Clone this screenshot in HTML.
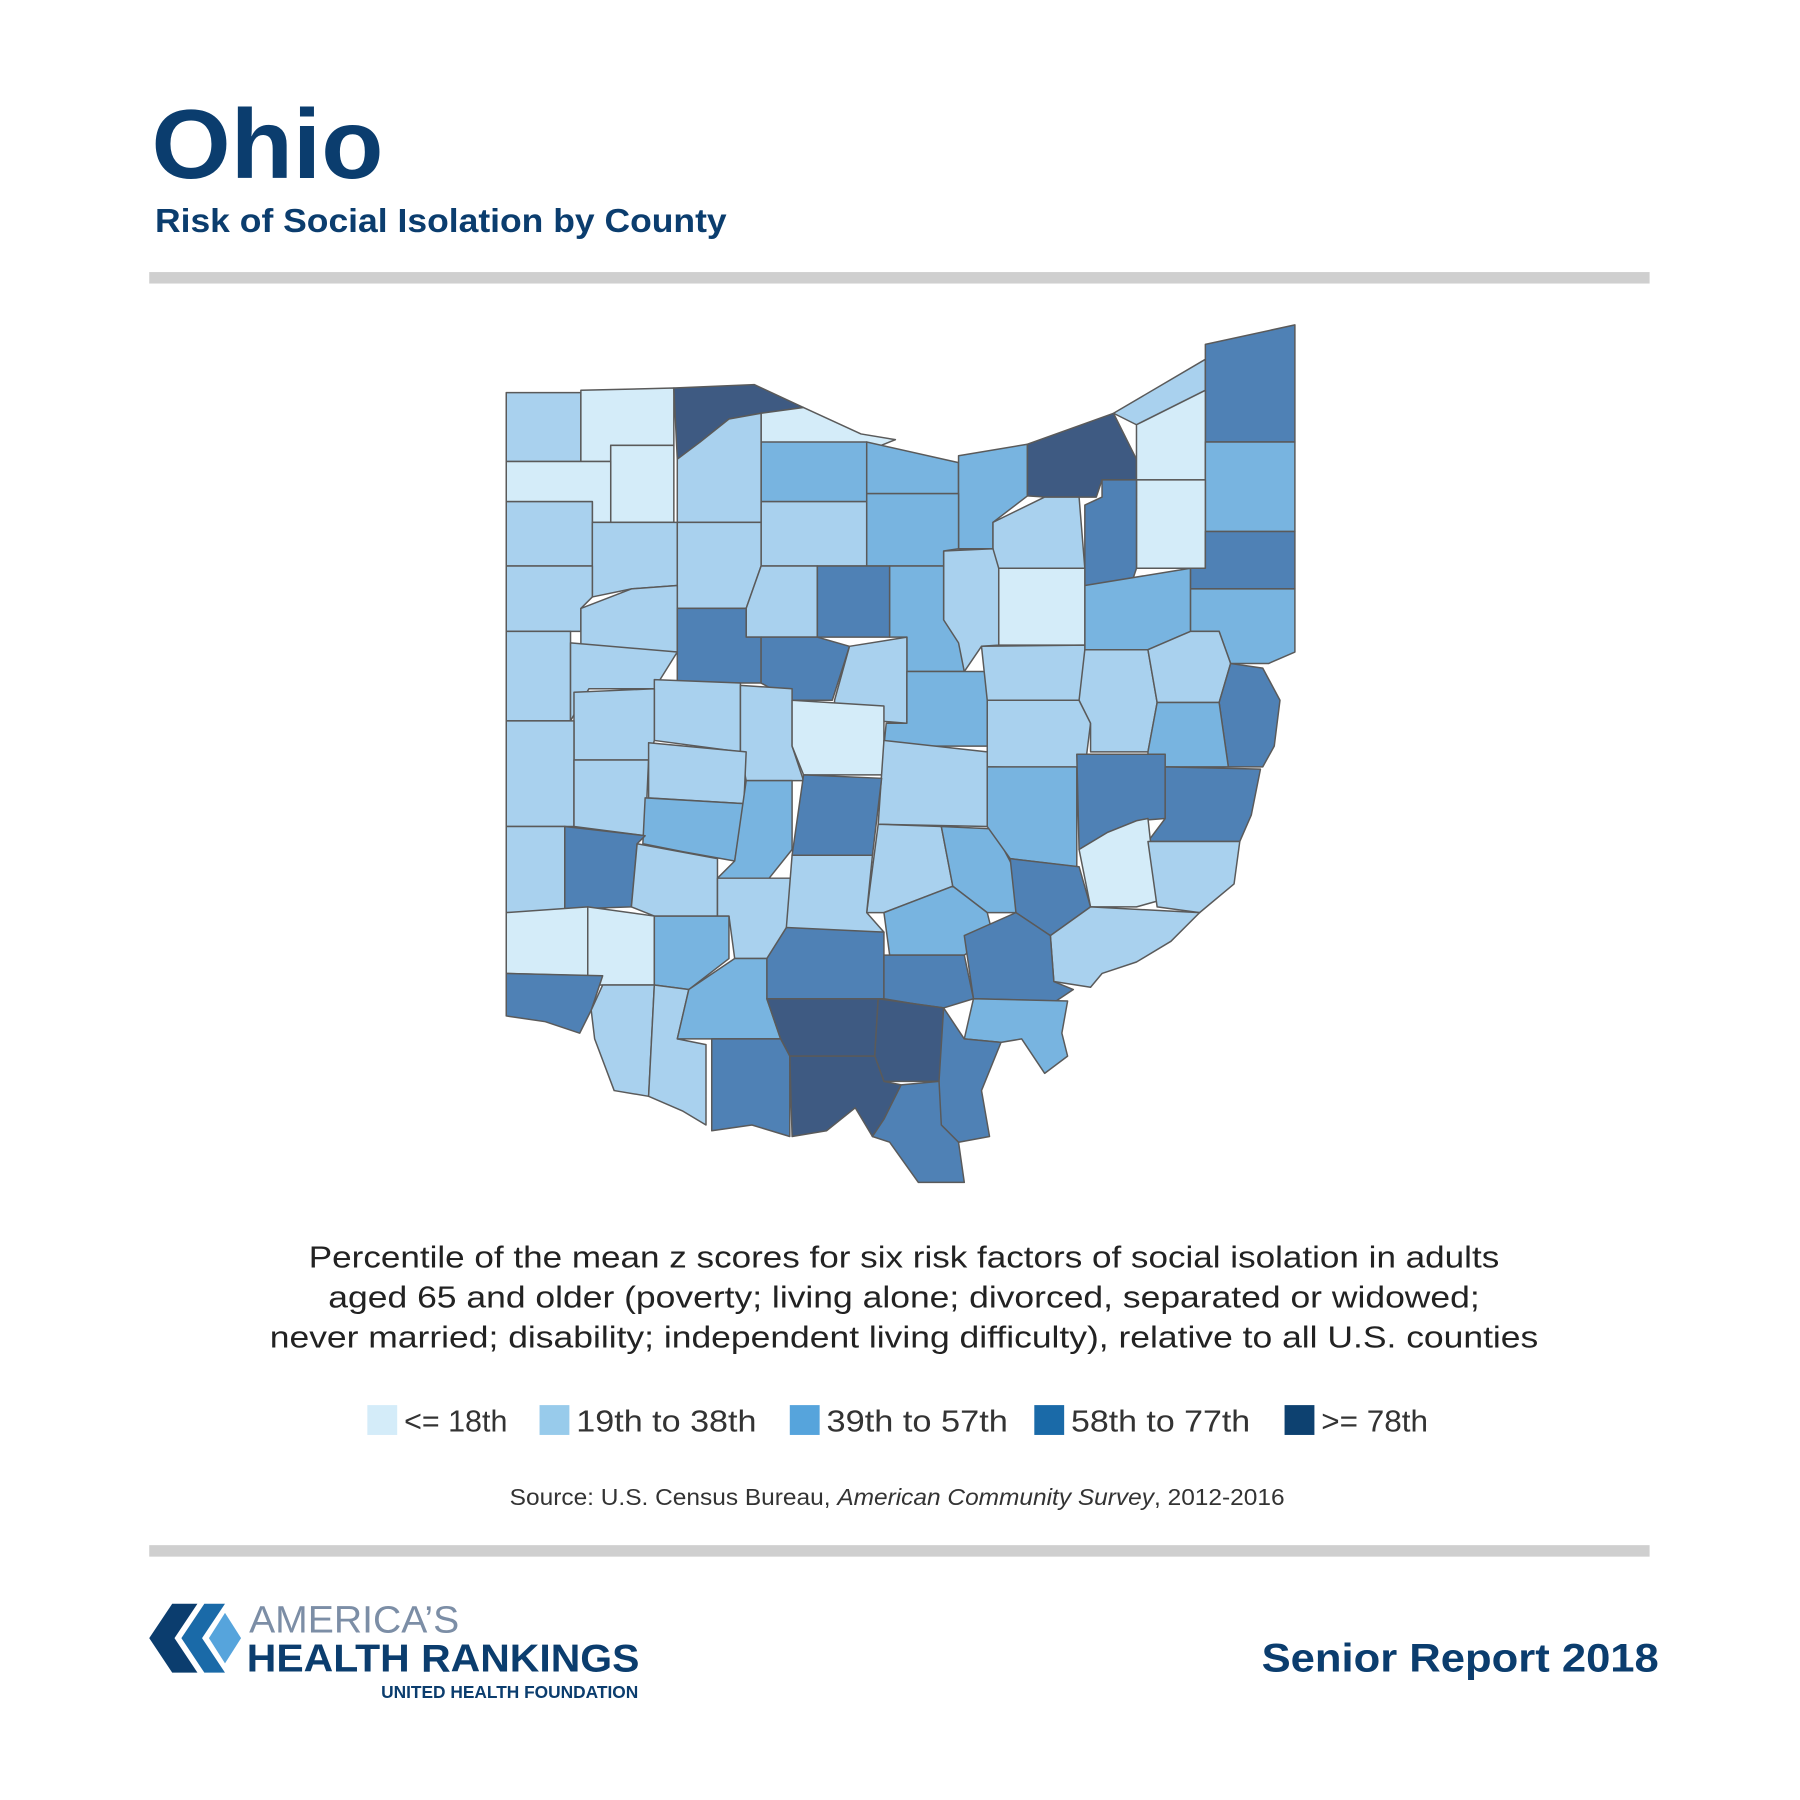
<!DOCTYPE html>
<html><head><meta charset="utf-8"><style>
html,body{margin:0;padding:0;background:#fff;}
svg{display:block;}
</style></head><body>
<svg width="1800" height="1800" viewBox="0 0 1568 1568" xmlns="http://www.w3.org/2000/svg" font-family="Liberation Sans, sans-serif">
<rect width="1568" height="1568" fill="#fff"/>
<text x="132" y="155" font-size="86" font-weight="bold" fill="#0b3d6e" textLength="202" lengthAdjust="spacingAndGlyphs">Ohio</text>
<text x="135" y="202" font-size="29" font-weight="bold" fill="#0b3d6e" textLength="498" lengthAdjust="spacingAndGlyphs">Risk of Social Isolation by County</text>
<rect x="130" y="237" width="1307" height="10" fill="#cfcfcf"/>
<rect x="130" y="1346" width="1307" height="10" fill="#cfcfcf"/>
<g stroke="#5a5a5a" stroke-width="1.3" stroke-linejoin="round">
<polygon fill="#a9d1ee" points="441,342 506,342 506,402 441,402"/>
<polygon fill="#d4ecf9" points="506,340 587,338 587,388 532,388 532,402 506,402"/>
<polygon fill="#3e5a82" points="587,338 657,335 700,355 663,360 635,365 610,385 590,400"/>
<polygon fill="#d4ecf9" points="663,360 700,355 750,378 780,383 755,393 663,393"/>
<polygon fill="#78b4e0" points="663,385 755,385 755,437 663,437"/>
<polygon fill="#78b4e0" points="755,385 835,403 835,430 755,430"/>
<polygon fill="#78b4e0" points="835,397 895,387 895,432 865,455 865,478 835,478"/>
<polygon fill="#3e5a82" points="895,387 970,360 990,400 990,418 960,418 955,433 910,433 895,432"/>
<polygon fill="#a9d1ee" points="970,360 1050,313 1050,340 990,370"/>
<polygon fill="#4f81b5" points="1050,300 1128,283 1128,385 1050,385"/>
<polygon fill="#d4ecf9" points="990,370 1050,340 1050,418 990,418"/>
<polygon fill="#78b4e0" points="1050,385 1128,385 1128,463 1050,463"/>
<polygon fill="#d4ecf9" points="990,418 1050,418 1050,495 990,495"/>
<polygon fill="#4f81b5" points="960,418 990,418 990,495 985,510 945,510 945,440 960,433"/>
<polygon fill="#a9d1ee" points="865,455 910,433 940,433 945,495 865,495"/>
<polygon fill="#4f81b5" points="1050,463 1128,463 1128,513 1037,513 1037,495 1050,495"/>
<polygon fill="#78b4e0" points="1037,513 1128,513 1128,568 1105,578 1072,578 1062,550 1037,550"/>
<polygon fill="#78b4e0" points="945,510 1037,495 1037,550 1000,566 945,566"/>
<polygon fill="#d4ecf9" points="870,495 945,495 945,562 870,562"/>
<polygon fill="#a9d1ee" points="822,480 865,478 870,495 870,562 855,563 840,585 822,585"/>
<polygon fill="#a9d1ee" points="663,437 755,437 755,493 663,493"/>
<polygon fill="#78b4e0" points="755,430 835,430 835,478 822,480 822,493 755,493"/>
<polygon fill="#a9d1ee" points="590,400 610,385 635,365 663,360 663,455 590,455"/>
<polygon fill="#d4ecf9" points="532,388 587,388 587,455 532,455"/>
<polygon fill="#d4ecf9" points="441,402 532,402 532,455 516,455 516,437 441,437"/>
<polygon fill="#a9d1ee" points="441,437 516,437 516,493 441,493"/>
<polygon fill="#a9d1ee" points="516,455 590,455 590,510 550,513 516,520 516,493"/>
<polygon fill="#a9d1ee" points="590,455 663,455 663,493 650,530 590,530"/>
<polygon fill="#a9d1ee" points="663,493 712,493 712,555 650,555 650,530"/>
<polygon fill="#4f81b5" points="712,493 775,493 775,555 712,555"/>
<polygon fill="#78b4e0" points="775,493 822,493 822,540 835,560 840,585 790,585 790,555 775,555"/>
<polygon fill="#a9d1ee" points="441,493 516,493 516,520 506,530 506,550 441,550"/>
<polygon fill="#a9d1ee" points="506,530 550,513 590,510 590,568 506,568"/>
<polygon fill="#4f81b5" points="590,530 650,530 650,555 663,555 663,595 590,595"/>
<polygon fill="#4f81b5" points="663,555 712,555 740,563 725,610 690,610 663,595"/>
<polygon fill="#a9d1ee" points="740,563 790,555 790,630 727,625 727,610"/>
<polygon fill="#78b4e0" points="790,585 860,585 860,650 770,650 772,630 790,630"/>
<polygon fill="#a9d1ee" points="855,563 945,562 945,610 860,610"/>
<polygon fill="#a9d1ee" points="860,610 940,610 950,630 945,670 860,668"/>
<polygon fill="#a9d1ee" points="945,566 1000,566 1008,612 1000,655 950,655 950,630 940,610"/>
<polygon fill="#a9d1ee" points="1000,566 1037,550 1062,550 1072,578 1062,612 1008,612"/>
<polygon fill="#4f81b5" points="1072,578 1100,582 1115,610 1110,650 1100,668 1070,668 1062,612"/>
<polygon fill="#78b4e0" points="1008,612 1062,612 1070,668 1000,668 1000,655"/>
<polygon fill="#a9d1ee" points="441,550 497,550 497,628 441,628"/>
<polygon fill="#a9d1ee" points="497,560 590,568 570,600 513,600 497,628"/>
<polygon fill="#a9d1ee" points="570,592 645,595 645,655 570,645"/>
<polygon fill="#a9d1ee" points="645,597 690,600 690,650 700,680 650,680 645,655"/>
<polygon fill="#d4ecf9" points="690,610 770,615 770,675 700,675 690,650"/>
<polygon fill="#a9d1ee" points="770,645 860,655 860,720 765,718"/>
<polygon fill="#4f81b5" points="938,657 1015,657 1015,713 990,715 965,725 940,740"/>
<polygon fill="#4f81b5" points="1015,668 1098,670 1090,710 1080,733 1000,733 1015,713"/>
<polygon fill="#a9d1ee" points="500,603 570,600 570,645 565,662 500,662"/>
<polygon fill="#a9d1ee" points="441,628 500,628 500,720 441,720"/>
<polygon fill="#a9d1ee" points="500,662 565,662 562,728 500,720"/>
<polygon fill="#a9d1ee" points="565,647 650,655 648,700 565,695"/>
<polygon fill="#78b4e0" points="562,695 648,700 640,750 595,742 560,735"/>
<polygon fill="#78b4e0" points="650,680 690,680 690,740 670,765 625,765 640,750"/>
<polygon fill="#4f81b5" points="700,675 768,678 760,745 690,745"/>
<polygon fill="#a9d1ee" points="765,718 820,720 830,772 770,795 755,795"/>
<polygon fill="#78b4e0" points="820,720 865,722 885,760 885,795 860,795 830,772"/>
<polygon fill="#78b4e0" points="860,668 938,668 938,755 880,748 860,720"/>
<polygon fill="#4f81b5" points="880,748 940,755 950,790 915,815 885,795"/>
<polygon fill="#d4ecf9" points="940,740 965,725 990,715 1000,713 1008,785 990,790 950,790"/>
<polygon fill="#a9d1ee" points="1000,733 1080,733 1075,770 1045,795 1008,790"/>
<polygon fill="#a9d1ee" points="915,815 950,790 1045,795 1020,820 990,838 960,848 950,860 918,855"/>
<polygon fill="#a9d1ee" points="441,720 492,720 492,795 441,795"/>
<polygon fill="#4f81b5" points="492,720 562,728 555,735 550,790 492,792"/>
<polygon fill="#a9d1ee" points="555,735 625,748 625,798 570,798 550,790"/>
<polygon fill="#a9d1ee" points="625,765 690,765 685,835 640,835 635,798 625,798"/>
<polygon fill="#a9d1ee" points="690,745 760,745 755,795 770,812 690,812 685,808"/>
<polygon fill="#78b4e0" points="770,795 830,772 860,795 865,815 840,832 775,832"/>
<polygon fill="#4f81b5" points="840,815 885,795 915,815 918,855 935,862 920,872 848,870"/>
<polygon fill="#d4ecf9" points="441,795 512,790 512,850 441,848"/>
<polygon fill="#d4ecf9" points="512,790 570,798 570,858 512,858"/>
<polygon fill="#78b4e0" points="570,798 635,798 635,835 600,862 570,858"/>
<polygon fill="#4f81b5" points="685,808 770,812 770,870 668,870 668,835"/>
<polygon fill="#4f81b5" points="770,832 840,832 848,870 822,878 800,875 770,870"/>
<polygon fill="#78b4e0" points="848,870 930,872 925,900 930,920 910,935 890,905 872,908 840,905"/>
<polygon fill="#4f81b5" points="441,848 525,850 515,880 505,900 475,890 441,885"/>
<polygon fill="#a9d1ee" points="525,858 570,858 565,955 535,950 518,905 515,880"/>
<polygon fill="#a9d1ee" points="570,858 600,862 590,905 615,910 615,980 595,968 565,955"/>
<polygon fill="#78b4e0" points="600,862 640,835 668,835 668,870 680,905 620,905 590,905"/>
<polygon fill="#3e5a82" points="668,870 765,870 762,920 688,920 680,905"/>
<polygon fill="#3e5a82" points="765,870 822,878 822,915 818,942 770,942 762,920"/>
<polygon fill="#4f81b5" points="822,878 840,905 872,908 855,950 862,990 835,995 820,980 790,945 818,942"/>
<polygon fill="#4f81b5" points="620,905 680,905 688,920 688,990 655,980 620,985"/>
<polygon fill="#3e5a82" points="688,920 762,920 770,942 785,945 770,975 760,990 745,965 720,985 690,990"/>
<polygon fill="#4f81b5" points="785,945 818,942 820,980 835,995 840,1030 800,1030 775,995 760,990 770,975"/>
</g>
<g font-size="26.5" fill="#222">
<text x="269" y="1104" textLength="1037" lengthAdjust="spacingAndGlyphs">Percentile of the mean z scores for six risk factors of social isolation in adults</text>
<text x="286" y="1139" textLength="1003" lengthAdjust="spacingAndGlyphs">aged 65 and older (poverty; living alone; divorced, separated or widowed;</text>
<text x="235" y="1174" textLength="1105" lengthAdjust="spacingAndGlyphs">never married; disability; independent living difficulty), relative to all U.S. counties</text>
</g>
<g font-size="27" fill="#333">
<rect x="320" y="1224" width="26" height="26" fill="#d4ecf9"/><text x="352" y="1247" textLength="90" lengthAdjust="spacingAndGlyphs">&lt;= 18th</text>
<rect x="470" y="1224" width="26" height="26" fill="#98cbeb"/><text x="502" y="1247" textLength="157" lengthAdjust="spacingAndGlyphs">19th to 38th</text>
<rect x="688" y="1224" width="26" height="26" fill="#56a4dc"/><text x="720" y="1247" textLength="158" lengthAdjust="spacingAndGlyphs">39th to 57th</text>
<rect x="901" y="1224" width="26" height="26" fill="#1a6aa8"/><text x="933" y="1247" textLength="156" lengthAdjust="spacingAndGlyphs">58th to 77th</text>
<rect x="1119" y="1224" width="26" height="26" fill="#0d4170"/><text x="1151" y="1247" textLength="93" lengthAdjust="spacingAndGlyphs">&gt;= 78th</text>
</g>
<text x="444" y="1311" font-size="20" fill="#333" textLength="675" lengthAdjust="spacingAndGlyphs">Source: U.S. Census Bureau, <tspan font-style="italic">American Community Survey</tspan>, 2012-2016</text>
<g>
<polygon points="130,1427 150,1397 172,1397 152,1427 172,1457 150,1457" fill="#0b3d6e"/>
<polygon points="158,1427 178,1397 196,1397 176,1427 196,1457 178,1457" fill="#1a6aa8"/>
<polygon points="182,1427 196,1405 210,1427 196,1449" fill="#56a4dc"/>
</g>
<text x="217" y="1422" font-size="33" fill="#7c8ea6" textLength="183" lengthAdjust="spacingAndGlyphs">AMERICA’S</text>
<text x="215" y="1456" font-size="34" font-weight="bold" fill="#0b3d6e" textLength="342" lengthAdjust="spacingAndGlyphs">HEALTH RANKINGS</text>
<text x="332" y="1479" font-size="15" font-weight="bold" fill="#0b3d6e" textLength="224" lengthAdjust="spacingAndGlyphs">UNITED HEALTH FOUNDATION</text>
<text x="1445" y="1456" font-size="35" font-weight="bold" fill="#0b3d6e" text-anchor="end" textLength="346" lengthAdjust="spacingAndGlyphs">Senior Report 2018</text>
</svg>
</body></html>
